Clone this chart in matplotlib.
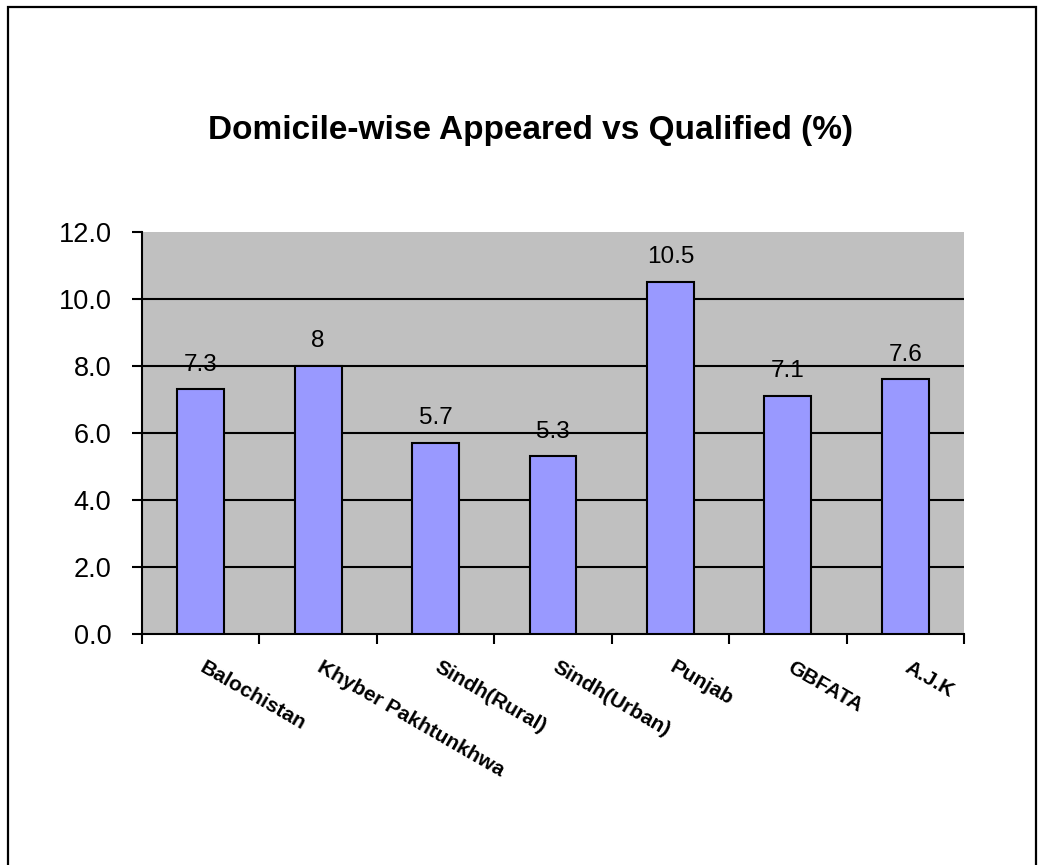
import matplotlib.pyplot as plt
from matplotlib.patches import Rectangle

# -----------------------------
# Data
# -----------------------------
DOMICILES = [
    "Balochistan",
    "Khyber Pakhtunkhwa",
    "Sindh(Rural)",
    "Sindh(Urban)",
    "Punjab",
    "GBFATA",
    "A.J.K",
]
QUALIFIED_PCT = [7.3, 8.0, 5.7, 5.3, 10.5, 7.1, 7.6]
VALUE_LABELS = ["7.3", "8", "5.7", "5.3", "10.5", "7.1", "7.6"]
Y_TICKS = [0, 2, 4, 6, 8, 10, 12]

plt.rcParams["font.family"] = ["Liberation Sans", "DejaVu Sans"]

W, H = 1038, 865
fig = plt.figure(figsize=(W / 100, H / 100), dpi=100)

# outer chart border
fig.patches.append(
    Rectangle((8 / W, -0.05), (1036 - 8) / W, 1 - 7 / H + 0.05,
              transform=fig.transFigure, fill=False, edgecolor="black",
              linewidth=1.6)
)

ax = fig.add_axes([142 / W, 1 - 634 / H, (964 - 142) / W, (634 - 232) / H])
ax.set_facecolor("#C0C0C0")

x = list(range(len(DOMICILES)))
ax.bar(x, QUALIFIED_PCT, width=0.4, color="#9999FF", edgecolor="black",
       linewidth=1.5, zorder=3)

for xi, v, lab in zip(x, QUALIFIED_PCT, VALUE_LABELS):
    ax.annotate(lab, (xi, v), xytext=(0, 10), textcoords="offset points",
                ha="center", va="bottom", fontsize=17.5, zorder=4)

ax.set_xlim(-0.5, len(DOMICILES) - 0.5)
ax.set_ylim(0, 12)
ax.set_yticks(Y_TICKS)
ax.set_yticklabels([f"{t:.1f}" for t in Y_TICKS], fontsize=19.5)
for t in Y_TICKS[1:-1]:
    ax.axhline(t, color="black", linewidth=1.5, zorder=1)

# category boundaries carry the x ticks
ax.set_xticks([i - 0.5 for i in range(len(DOMICILES) + 1)])
ax.set_xticklabels([])
ax.tick_params(axis="x", direction="out", length=7, width=1.5)
ax.tick_params(axis="y", direction="out", length=7, width=1.5, pad=15)

for xi, name in zip(x, DOMICILES):
    ax.annotate(name, (xi, 0), xytext=(4, -17), textcoords="offset points",
                rotation=-30, rotation_mode="anchor", ha="left", va="top",
                fontsize=15, fontweight="bold")

for side in ["top", "right"]:
    ax.spines[side].set_visible(False)
for side in ["left", "bottom"]:
    ax.spines[side].set_linewidth(1.5)

fig.text(530 / W, 1 - 130 / H, "Domicile-wise Appeared vs Qualified (%)",
         ha="center", va="center", fontsize=24, fontweight="bold")

fig.savefig("out.png", dpi=100)
